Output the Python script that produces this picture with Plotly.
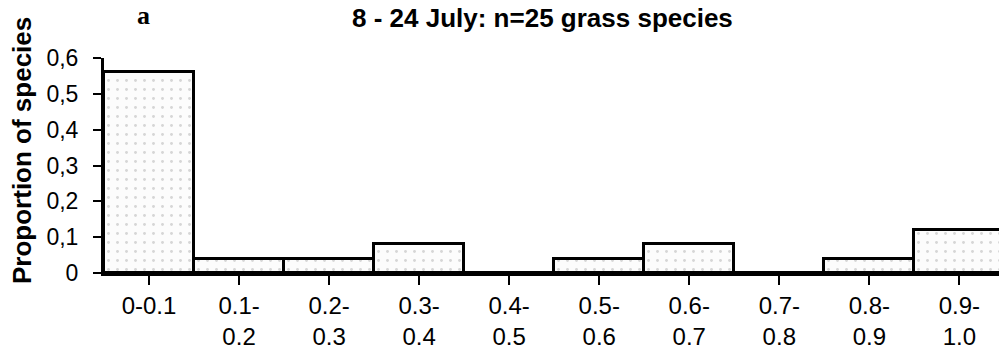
import plotly.graph_objects as go

categories = ["0-0.1", "0.1-<br>0.2", "0.2-<br>0.3", "0.3-<br>0.4", "0.4-<br>0.5",
              "0.5-<br>0.6", "0.6-<br>0.7", "0.7-<br>0.8", "0.8-<br>0.9", "0.9-<br>1.0"]
proportions = [0.56, 0.04, 0.04, 0.08, 0.0, 0.04, 0.08, 0.0, 0.04, 0.12]
y_tickvals = [0, 0.1, 0.2, 0.3, 0.4, 0.5, 0.6]
y_ticktext = ["0", "0,1", "0,2", "0,3", "0,4", "0,5", "0,6"]

FONT = "Liberation Sans, Arial, sans-serif"

W, H = 999, 364
L, T, B = 104, 58, 91
PW, PH = W - L, H - T - B

fig = go.Figure()
fig.add_trace(go.Bar(
    x=list(range(len(categories))),
    y=proportions,
    marker=dict(
        color="#fbfbfb",
        line=dict(color="black", width=3),
        pattern=dict(shape=".", fgcolor="#b0b0b0", bgcolor="#fcfcfc", size=9, solidity=0.08),
    ),
    showlegend=False,
))

fig.update_layout(
    width=W, height=H,
    margin=dict(l=L, r=0, t=T, b=B),
    paper_bgcolor="white", plot_bgcolor="white",
    bargap=0,
    font=dict(family=FONT, size=23, color="black"),
    xaxis=dict(
        range=[-0.5, 9.44],
        tickmode="array",
        tickvals=list(range(len(categories))),
        ticktext=categories,
        showline=True, linecolor="black", linewidth=3,
        ticks="outside", ticklen=9, tickwidth=2, tickcolor="black",
        tickson="boundaries",
        showgrid=False, zeroline=False,
        tickfont=dict(family=FONT, size=24, color="black"),
    ),
    yaxis=dict(
        range=[0, 0.6],
        tickmode="array",
        tickvals=y_tickvals,
        ticktext=y_ticktext,
        showline=True, linecolor="black", linewidth=3,
        ticks="outside", ticklen=8, tickwidth=2, tickcolor="black",
        ticklabelstandoff=10,
        showgrid=False, zeroline=False,
        tickfont=dict(family=FONT, size=23, color="black"),
    ),
    annotations=[
        dict(text="<b>8 - 24 July: n=25 grass species</b>", xref="paper", yref="paper",
             x=(542 - L) / PW, y=1 + (T - 18) / PH, xanchor="center", yanchor="middle",
             showarrow=False, font=dict(family=FONT, size=26, color="black")),
        dict(text="<b>a</b>", xref="paper", yref="paper",
             x=(143 - L) / PW, y=1 + (T - 16) / PH, xanchor="center", yanchor="middle",
             showarrow=False, font=dict(family="Liberation Serif, Times New Roman, serif", size=26, color="black")),
        dict(text="<b>Proportion of species</b>", xref="paper", yref="paper",
             x=(22 - L) / PW, y=(H - B - 151) / PH, xanchor="center", yanchor="middle",
             textangle=-90, showarrow=False, font=dict(family=FONT, size=26, color="black")),
    ],
)

fig.write_html("out.html")
